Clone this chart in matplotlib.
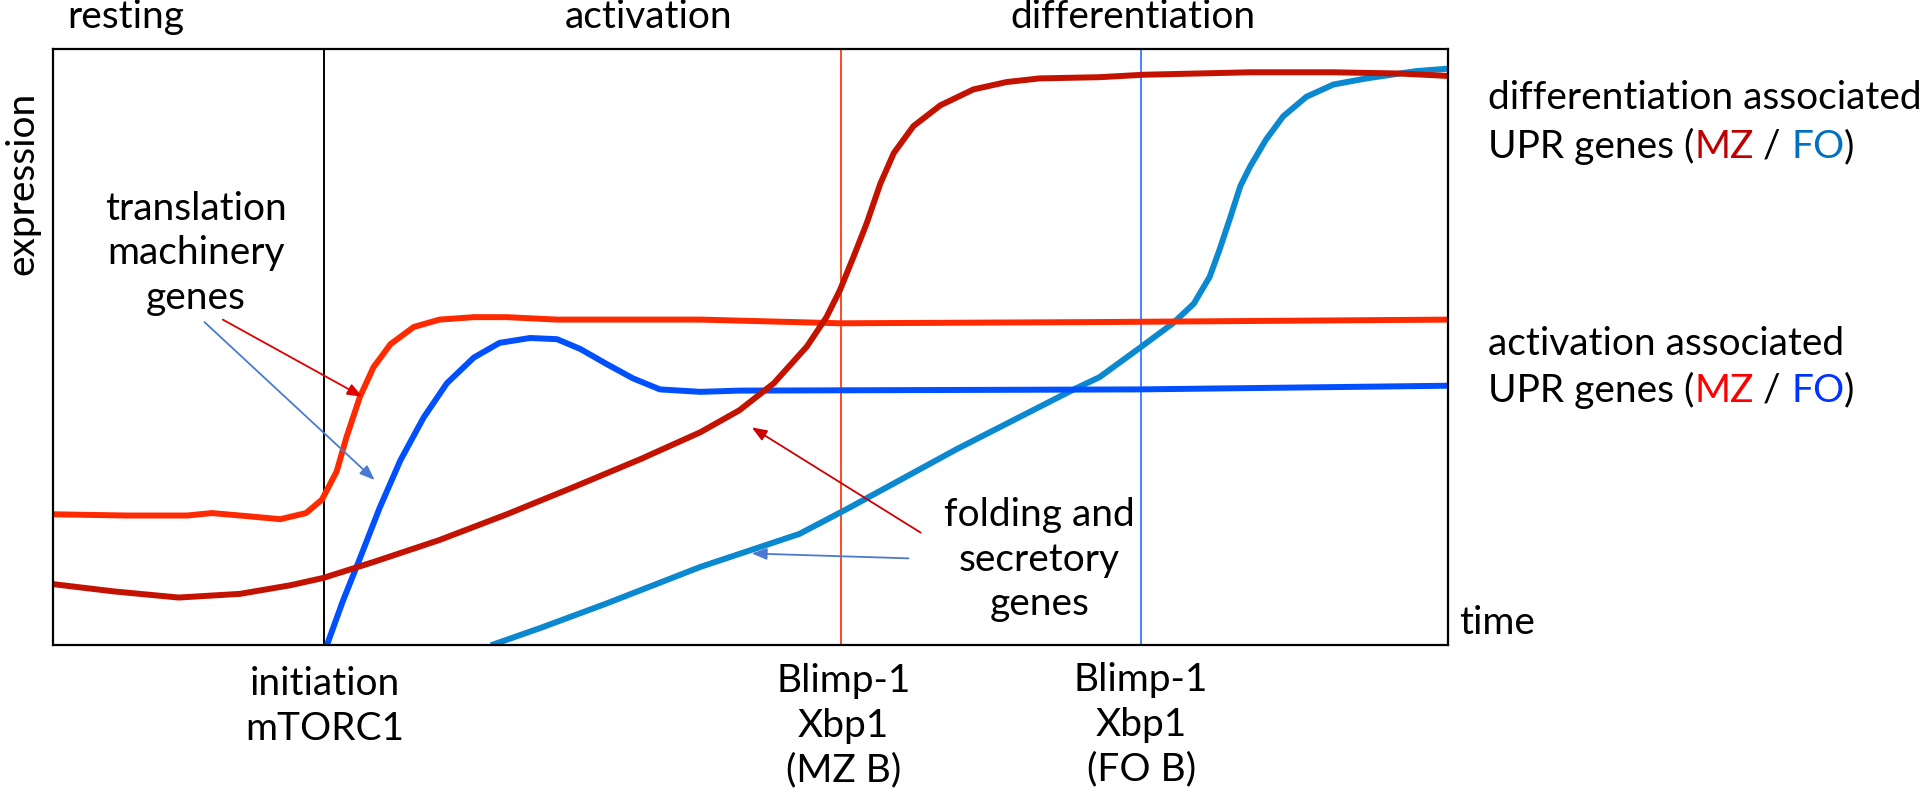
import numpy as np
import matplotlib
matplotlib.use("Agg")
import matplotlib.pyplot as plt

plt.rcParams["font.family"] = ["Lato", "DejaVu Sans"]

# ==============================
# DATA (time / expression, arbitrary units)
# ==============================
act_mz_t = [0, 60, 110, 130, 153, 186, 207, 220, 232, 240, 251, 262, 276, 295, 316,
            344, 371, 412, 529, 643, 855, 1140]
act_mz_y = [107, 106, 106, 108, 106, 103, 108, 119, 142, 170, 203, 227, 246, 260, 266,
            268, 268, 266, 266, 263, 264, 266]

act_fo_t = [224, 237, 251, 267, 284, 303, 322, 344, 365, 390, 412, 431, 452, 474, 496,
            529, 561, 888, 1140]
act_fo_y = [0, 36, 71, 112, 151, 186, 214, 235, 247, 251, 250, 242, 230, 218, 209,
            207, 208, 209, 212]

diff_mz_t = [0, 50, 103, 153, 194, 221, 262, 316, 371, 425, 480, 529, 561, 589, 616,
             632, 643, 654, 665, 676, 687, 703, 725, 752, 779, 806, 855, 891, 978,
             1046, 1100, 1140]
diff_mz_y = [50, 44, 39, 42, 49, 55, 68, 86, 107, 129, 152, 174, 192, 214, 244,
             268, 290, 317, 345, 377, 402, 424, 441, 454, 460, 463, 464, 466, 468,
             468, 467, 465]

diff_fo_t = [358, 398, 452, 529, 610, 650, 738, 834, 855, 888, 915, 932, 945, 953,
             962, 970, 978, 991, 1005, 1024, 1046, 1073, 1114, 1140]
diff_fo_y = [0, 14, 34, 64, 91, 112, 160, 209, 219, 243, 263, 279, 301, 323,
             350, 375, 391, 413, 432, 448, 458, 463, 469, 471]

# event markers on the time axis
initiation_t = 222
mz_blimp_t = 644
fo_blimp_t = 889

phase_labels = ["resting", "activation", "differentiation"]
phase_t = [60, 487, 882]

# ==============================
# FIGURE
# ==============================
fig = plt.figure(figsize=(19.2, 8.05), dpi=100)
ax = fig.add_axes([0.0274, 0.1984, 0.727, 0.7407])
ax.set_xlim(0, 1140)
ax.set_ylim(0, 487)
ax.set_xticks([])
ax.set_yticks([])
for sp in ax.spines.values():
    sp.set_linewidth(1.6)
    sp.set_color("black")

FS = 28
LS = 1.3

# vertical event lines
ax.axvline(initiation_t, color="black", lw=1.4)
ax.axvline(mz_blimp_t, color="#ff2a00", lw=1.2)
ax.axvline(fo_blimp_t, color="#2a6cff", lw=1.2)

# curves
kw = dict(lw=4.3, solid_capstyle="butt", solid_joinstyle="round")
ax.plot(diff_fo_t, diff_fo_y, color="#0a88d0", **kw)
ax.plot(act_fo_t, act_fo_y, color="#0050ff", **kw)
ax.plot(act_mz_t, act_mz_y, color="#ff2a00", **kw)
ax.plot(diff_mz_t, diff_mz_y, color="#c41200", **kw)

# phase labels above the box
for lab, t in zip(phase_labels, phase_t):
    ax.text(t, 513, lab, fontsize=FS, ha="center", va="center", clip_on=False)

ax.text(-25, 377, "expression", fontsize=FS, rotation=90,
        ha="center", va="center", clip_on=False)
ax.text(1149, 18, "time", fontsize=FS, ha="left", va="center", clip_on=False)

# annotations inside
ax.text(117, 320, "translation\nmachinery\ngenes", fontsize=FS,
        ha="center", va="center", linespacing=LS)
ax.text(806, 70, "folding and\nsecretory\ngenes", fontsize=FS,
        ha="center", va="center", linespacing=LS)

# arrows
def arrow(x0, y0, x1, y1, color):
    ax.annotate("", xy=(x1, y1), xytext=(x0, y0),
                arrowprops=dict(arrowstyle="-|>,head_length=0.9,head_width=0.35",
                                color=color, lw=1.3, shrinkA=0, shrinkB=0))

arrow(139, 266, 253, 203, "#e00000")
arrow(124, 264, 263, 135, "#4a7bd0")
arrow(709, 92, 571, 178, "#d00000")
arrow(699, 71, 571, 75, "#4a7bd0")

# labels under the box
ax.text(initiation_t, -50, "initiation\nmTORC1", fontsize=FS,
        ha="center", va="center", linespacing=LS, clip_on=False)
ax.text(mz_blimp_t + 2, -66, "Blimp-1\nXbp1\n(MZ B)", fontsize=FS,
        ha="center", va="center", linespacing=LS, clip_on=False)
ax.text(fo_blimp_t, -65, "Blimp-1\nXbp1\n(FO B)", fontsize=FS,
        ha="center", va="center", linespacing=LS, clip_on=False)


# right side legend-like labels with coloured words
def rainbow(x, y, pieces):
    t = ax.text(x, y, pieces[0][0], color=pieces[0][1], fontsize=FS,
                ha="left", va="baseline", clip_on=False)
    for s, c in pieces[1:]:
        t = ax.annotate(s, xycoords=t, xy=(1, 0), va="bottom",
                        color=c, fontsize=FS, annotation_clip=False)


ax.text(1172, 438, "differentiation associated", fontsize=FS,
        ha="left", va="baseline", clip_on=False)
rainbow(1172, 398, [("UPR genes (", "black"), ("MZ", "#c00000"),
                    (" / ", "black"), ("FO", "#0070c0"), (")", "black")])

ax.text(1172, 237, "activation associated", fontsize=FS,
        ha="left", va="baseline", clip_on=False)
rainbow(1172, 199, [("UPR genes (", "black"), ("MZ", "#ff0000"),
                    (" / ", "black"), ("FO", "#0033ff"), (")", "black")])

fig.savefig("out.png", dpi=100)
